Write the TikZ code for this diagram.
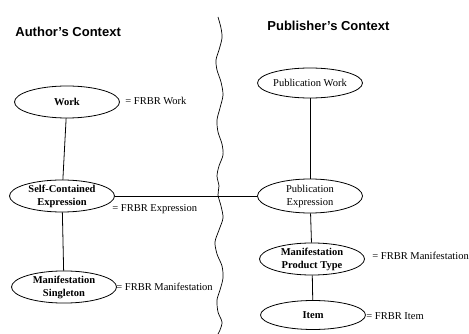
\documentclass[tikz,border=0pt]{standalone}
\usepackage{fontspec}
\setmainfont{Liberation Serif}
\newfontfamily\headfont{Liberation Sans}
\usetikzlibrary{shapes.geometric}

\begin{document}
\begin{tikzpicture}[x = 1pt, y = -1pt, line width = 0.8pt,
    entity/.style = {ellipse, draw, minimum width = 105pt, minimum height = 30pt,
      inner sep = 0pt, align = center, font = \fontsize{10.5}{13}\selectfont},
    frbr/.style = {anchor = west, inner sep = 0pt, font = \fontsize{10.5}{13}\selectfont},
    heading/.style = {anchor = west, inner sep = 0pt,
      font = \headfont\fontsize{13}{15}\selectfont\bfseries}]
  \useasboundingbox (0, 0) rectangle (469, 334);
  % headings
  \node[heading] (authorctx) at (15, 32) {Author’s Context};
  \node[heading] (publisherctx) at (267, 26) {Publisher’s Context};
  % border between the two contexts
  \draw[line width = 0.7pt] plot[smooth] coordinates {(218, 17) (221, 28) (222, 38)
    (219, 50) (216, 60) (217, 70) (221, 82) (223, 95) (220, 108) (217, 120)
    (218, 132) (222, 144) (223, 155) (219, 166) (217, 176) (219, 186) (218, 195)
    (221, 206) (223, 218) (219, 230) (215, 242) (217, 254) (222, 266) (223, 278)
    (220, 290) (217, 300) (218, 312) (222, 322) (220, 330) (218, 334)};
  % author side
  \node[entity, minimum height = 32pt] (work) at (67, 102) {\textbf{Work}};
  \node[entity] (sce) at (62, 196) {\textbf{Self-Contained}\\\textbf{Expression}};
  \node[entity, minimum height = 29pt] (ms) at (64, 287) {\textbf{Manifestation}\\\textbf{Singleton}};
  \draw (work) -- (sce);
  \draw (sce) -- (ms);
  % publisher side
  \node[entity] (pw) at (310, 83) {Publication Work};
  \node[entity, minimum height = 34pt] (pe) at (310, 196) {Publication\\Expression};
  \node[entity] (mpt) at (312, 259) {\textbf{Manifestation}\\\textbf{Product Type}};
  \node[entity, minimum height = 29pt] (item) at (313, 315) {\textbf{Item}};
  \draw (pw) -- (pe);
  \draw (pe) -- (mpt);
  \draw (mpt) -- (item);
  % link across contexts
  \draw (sce) -- (pe);
  % FRBR equivalents
  \node[frbr] (frbrwork) at (125, 101) {= FRBR Work};
  \node[frbr] (frbrexpr) at (112, 209) {= FRBR Expression};
  \node[frbr] (frbrmanl) at (116, 287) {= FRBR Manifestation};
  \node[frbr] (frbrmanr) at (372, 256) {= FRBR Manifestation};
  \node[frbr] (frbritem) at (366, 316) {= FRBR Item};
\end{tikzpicture}
\end{document}
